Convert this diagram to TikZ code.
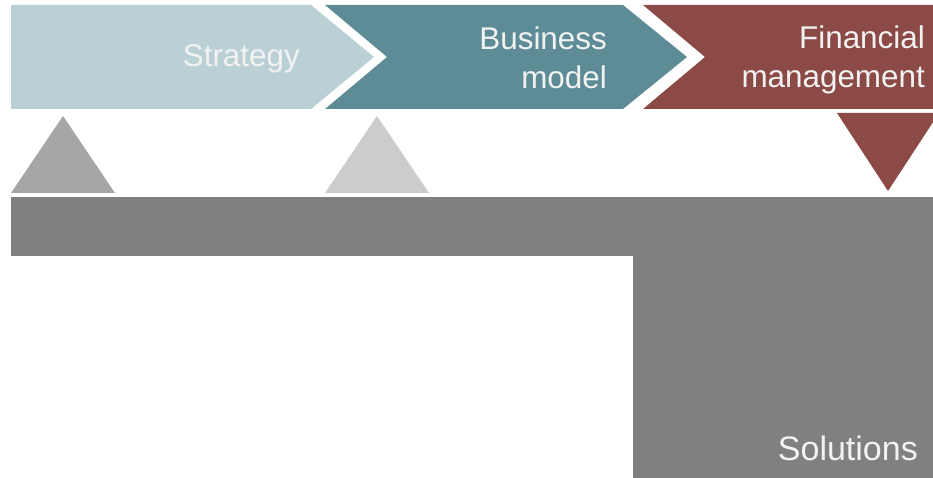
\documentclass[tikz,border=0pt]{standalone}
\usepackage{fontspec}
\setmainfont{Liberation Sans}
\usetikzlibrary{positioning}
\definecolor{stratcol}{HTML}{BBD0D5}
\definecolor{bizcol}{HTML}{5E8C96}
\definecolor{fincol}{HTML}{8B4A46}
\definecolor{txtcol}{HTML}{F2F2F2}
\tikzstyle{chev1}=[fill=stratcol]
\tikzstyle{chev2}=[fill=bizcol]
\tikzstyle{chev3}=[fill=fincol]
\tikzstyle{lbl}=[text=txtcol, inner sep=0pt, align=right, font=\dimg]
\tikzstyle{bar}=[fill=black!50]
\newcommand{\dimg}{\fontsize{31.4}{39}\selectfont}

\begin{document}
\begin{tikzpicture}[x=1pt, y=-1pt]
    \clip (0,0) rectangle (933,478);
    \useasboundingbox (0,0) rectangle (933,478);

    % chevrons
    \fill [chev1] (11,5) -- (311,5) -- (374,57) -- (311,109) -- (11,109) -- cycle;
    \fill [chev2] (325,5) -- (623,5) -- (687,57) -- (623,109) -- (325,109) -- (387,57) -- cycle;
    \fill [chev3] (643,5) -- (940,5) -- (940,109) -- (643,109) -- (705,57) -- cycle;

    \node [lbl, anchor = base east] (strat) at (300,67) {Strategy};
    \node [lbl, anchor = base east] (biz) at (607,89) {Business\\model};
    \node [lbl, anchor = base east] (fin) at (925,88) {Financial\\management};

    % triangles
    \fill [black!35] (11,193) -- (115,193) -- (63,116) -- cycle;
    \fill [black!20] (325,193) -- (429,193) -- (377,116) -- cycle;
    \fill [chev3] (837,113) -- (939,113) -- (888,191) -- cycle;

    % bar and box
    \fill [bar] (11,197) rectangle (633,256);
    \fill [bar] (633,197) rectangle (933,478);
    \node [lbl, anchor = base east, font = \fontsize{34}{40}\selectfont] (sol) at (918,460) {Solutions};
\end{tikzpicture}
\end{document}
